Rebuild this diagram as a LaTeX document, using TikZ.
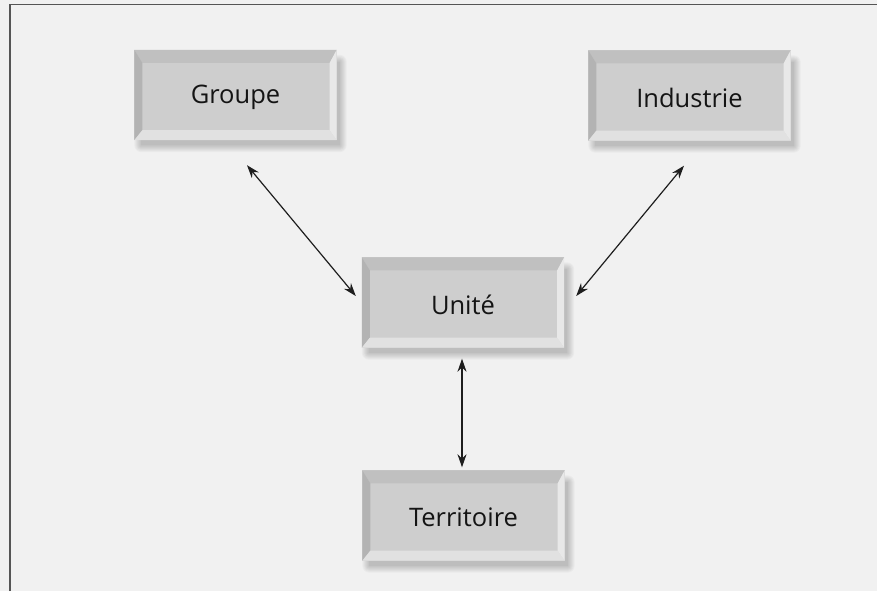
\documentclass[tikz,border=0pt]{standalone}
\usepackage{fontspec}
\setmainfont{Open Sans}
\usetikzlibrary{calc,arrows.meta}
\definecolor{bg}{HTML}{F1F1F1}
\definecolor{face}{HTML}{CECECE}
\definecolor{btop}{HTML}{C0C0C0}
\definecolor{bleft}{HTML}{B3B3B3}
\definecolor{bbot}{HTML}{E1E1E1}
\definecolor{bright}{HTML}{E8E8E8}
\definecolor{frame}{HTML}{555555}
\definecolor{arr}{HTML}{1E1E1E}
\tikzset{
  bevbox/.style={rectangle, minimum width=202pt, minimum height=90pt, inner sep=0pt},
  lbl/.style={font=\fontsize{25.5}{29}\selectfont, text=black!92},
  link/.style={{Stealth[length=13pt,width=9pt]}-{Stealth[length=13pt,width=9pt]}, line width=1.2pt, draw=arr},
}
\newcommand\bevel[1]{%
  \foreach \r in {0,1,...,7}{
    \fill[black,opacity=0.028,rounded corners=\r pt] ($(#1.north west)+(7-\r,12-\r)$) rectangle ($(#1.south east)+(3+\r,5+\r)$);
  }
  \fill[face] (#1.north west) rectangle (#1.south east);
  \fill[btop] (#1.north west) -- (#1.north east) -- ($(#1.north east)+(-7,13)$) -- ($(#1.north west)+(8,13)$) -- cycle;
  \fill[bleft] (#1.north west) -- ($(#1.north west)+(8,13)$) -- ($(#1.south west)+(8,-10)$) -- (#1.south west) -- cycle;
  \fill[bbot] (#1.south west) -- (#1.south east) -- ($(#1.south east)+(-7,-10)$) -- ($(#1.south west)+(8,-10)$) -- cycle;
  \fill[bright] (#1.north east) -- (#1.south east) -- ($(#1.south east)+(-7,-10)$) -- ($(#1.north east)+(-7,13)$) -- cycle;
}
\begin{document}
\begin{tikzpicture}[x=1pt,y=-1pt]
\fill[bg] (0,0) rectangle (877,591);
\useasboundingbox (0,0) rectangle (877,591);
\draw[frame, line width=1.6pt] (10,591) -- (10,4.5) -- (877,4.5);

\node[bevbox] (g) at (235.5,95) {};
\node[bevbox] (i) at (689.5,95.5) {};
\node[bevbox] (u) at (463,302.5) {};
\node[bevbox] (t) at (463.5,515.5) {};

\bevel{g}
\bevel{i}
\bevel{u}
\bevel{t}

\node[lbl] (gl) at ($(g.center)+(0,2)$) {Groupe};
\node[lbl] (il) at ($(i.center)+(0,2)$) {Industrie};
\node[lbl] (ul) at ($(u.center)+(0,2)$) {Unité};
\node[lbl] (tl) at ($(t.center)+(0,2)$) {Territoire};

\draw[link] ($(g.south)+(11.5,25)$) -- ($(u.west)+(-6,-6.5)$);
\draw[link] ($(i.south)+(-5.5,25)$) -- ($(u.east)+(12,-6.5)$);
\draw[link] ($(u.south)+(-1,11)$) -- ($(t.north)+(-1.5,-3)$);
\end{tikzpicture}
\end{document}
